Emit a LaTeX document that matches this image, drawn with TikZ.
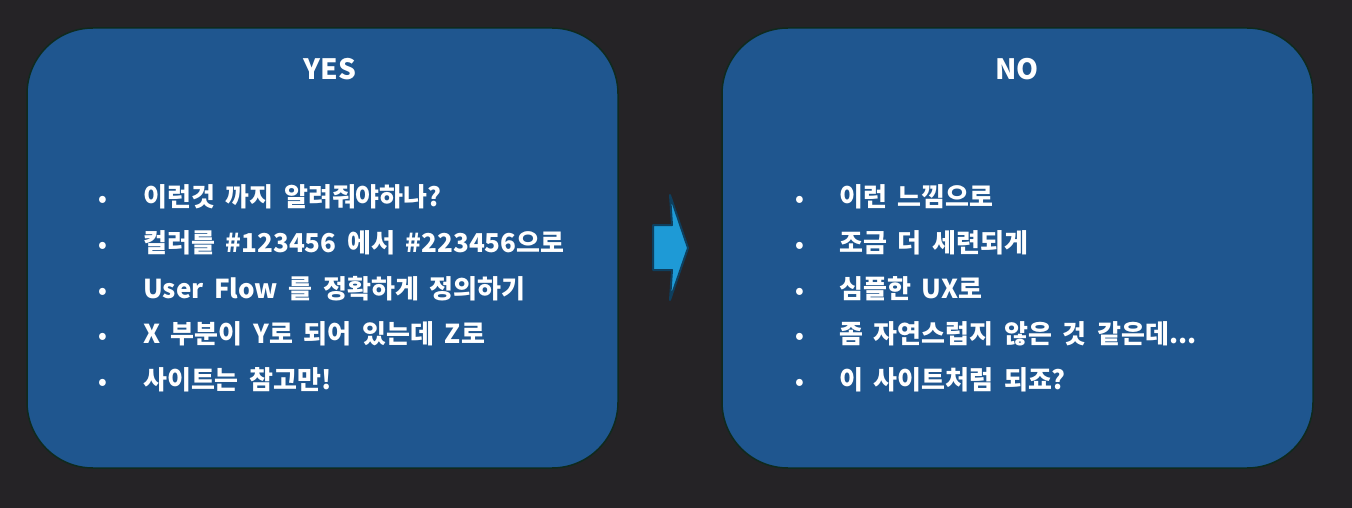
\documentclass[tikz,border=0pt]{standalone}
\usepackage{fontspec}
\setmainfont{Noto Sans CJK KR}[WordSpace=1.8]
\definecolor{bgc}{HTML}{252326}
\definecolor{boxc}{HTML}{1F568F}
\definecolor{edgec}{HTML}{0F2A1E}
\definecolor{arrc}{HTML}{1E9AD6}
\definecolor{arredge}{HTML}{0E3F5E}
\tikzset{
  panel/.style={draw=edgec, line width=1.5pt, fill=boxc, rounded corners=66pt,
    minimum width=591pt, minimum height=440pt, inner sep=0pt},
  title/.style={text=white, font=\bfseries\fontsize{28}{32}\selectfont, anchor=base, inner sep=0pt},
  item/.style={text=white, font=\bfseries\fontsize{26}{30}\selectfont, anchor=base west, inner sep=0pt},
  dot/.style={text=white, font=\bfseries\fontsize{22}{26}\selectfont, anchor=base, inner sep=0pt}
}
\begin{document}
\begin{tikzpicture}[x=1pt,y=-1pt]
\fill[bgc] (0,0) rectangle (1352,508);
\useasboundingbox (0,0) rectangle (1352,508);
\node[panel] (yesbox) at (322.5,248) {};
\node[panel] (nobox) at (1017.5,248) {};
\node[title] (yes) at (330,80) {YES};
\node[title] (no) at (1017,80) {NO};
% arrow
\coordinate (a1) at (653,225);
\coordinate (a2) at (672,225);
\coordinate (a3) at (670,195);
\coordinate (a4) at (688,248);
\coordinate (a5) at (670,300);
\coordinate (a6) at (672,270);
\coordinate (a7) at (653,270);
\draw[arredge, line width=2pt, fill=arrc, line join=round] (a1) -- (a2) -- (a3) -- (a4) -- (a5) -- (a6) -- (a7) -- cycle;
% left items
\foreach \y/\t [count=\i] in {206/{이런것 까지 알려줘야하나?},252/{컬러를 \#123456 에서 \#223456으로},298/{User Flow 를 정확하게 정의하기},343/{X 부분이 Y로 되어 있는데 Z로},389/{사이트는 참고만!}}{
  \node[dot] (lb\i) at (103,\y) {•};
  \node[item] (lt\i) at (143,\y) {\t};
}
\foreach \y/\t [count=\i] in {206/{이런 느낌으로},252/{조금 더 세련되게},298/{심플한 UX로},343/{좀 자연스럽지 않은 것 같은데...},389/{이 사이트처럼 되죠?}}{
  \node[dot] (rb\i) at (800,\y) {•};
  \node[item] (rt\i) at (839,\y) {\t};
}
\end{tikzpicture}
\end{document}
